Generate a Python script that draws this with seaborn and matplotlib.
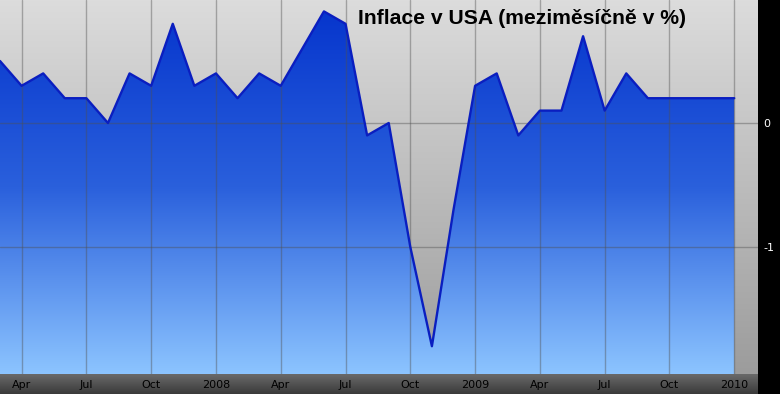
import matplotlib.pyplot as plt
import numpy as np
import pandas as pd
import seaborn as sns
from matplotlib.colors import LinearSegmentedColormap

# Monthly US inflation (m/m, %), Mar 2007 - Jan 2010
months = pd.date_range('2007-03-01', '2010-01-01', freq='MS')
inflation = [0.5, 0.3, 0.4, 0.2, 0.2, 0.0, 0.4, 0.3, 0.8, 0.3,
             0.4, 0.2, 0.4, 0.3, 0.6, 0.9, 0.8, -0.1, 0.0, -1.0, -1.8, -0.7,
             0.3, 0.4, -0.1, 0.1, 0.1, 0.7, 0.1, 0.4, 0.2, 0.2, 0.2, 0.2, 0.2]
tick_labels = ['Apr', 'Jul', 'Oct', '2008', 'Apr', 'Jul', 'Oct',
               '2009', 'Apr', 'Jul', 'Oct', '2010']
y_ticks = [0, -1]

df = pd.DataFrame({'month': months, 'value': inflation})
df['idx'] = np.arange(len(df))
tick_pos = df.loc[df['month'].dt.month.isin([1, 4, 7, 10]), 'idx'].tolist()

sns.set_style('white')
plt.rcParams['font.family'] = ['DejaVu Sans']

W, H = 780, 394
fig = plt.figure(figsize=(W / 100, H / 100), dpi=100)
fig.patch.set_facecolor('black')

xmin, xmax = 0, 35.1
ymin, ymax = -2.024, 0.992

grad = np.linspace(0, 1, 256).reshape(-1, 1)

# bottom strip behind the x labels
axb = fig.add_axes([0, 0, 758 / W, 20 / H])
strip_cmap = LinearSegmentedColormap.from_list('strip', ['#6a6a6a', '#3a3a3a'])
axb.imshow(grad, aspect='auto', cmap=strip_cmap, extent=[0, 1, 0, 1])
axb.set_axis_off()

ax = fig.add_axes([0, 20 / H, 758 / W, 374 / H])

# gray background gradient
bg_cmap = LinearSegmentedColormap.from_list('bg', ['#dcdcdc', '#9c9c9c'])
ax.imshow(grad, aspect='auto', cmap=bg_cmap, extent=[xmin, xmax, ymin, ymax],
          zorder=0)

# blue gradient fill under the line
poly = ax.fill_between(df['idx'], df['value'], ymin, color='none', lw=0)
blue_cmap = LinearSegmentedColormap.from_list('blue', ['#0433cc', '#2a60dc', '#8cc4ff'])
im = ax.imshow(grad, aspect='auto', cmap=blue_cmap,
               extent=[xmin, xmax, ymin, ymax], zorder=1)
im.set_clip_path(poly.get_paths()[0], transform=ax.transData)

sns.lineplot(data=df, x='idx', y='value', ax=ax, color='#0a1ec0', lw=1.7,
             zorder=3)

ax.set_xlim(xmin, xmax)
ax.set_ylim(ymin, ymax)
ax.set_xticks(tick_pos)
ax.set_xticklabels(tick_labels)
ax.set_yticks(y_ticks)
ax.set_yticklabels(['0', '-1'])
ax.yaxis.tick_right()
ax.tick_params(axis='x', length=0, pad=4, labelsize=8, colors='black')
ax.tick_params(axis='y', length=0, pad=4, labelsize=8, colors='white')
ax.set_axisbelow(False)
ax.grid(True, color='#505050', alpha=0.42, lw=1)
ax.set_xlabel('')
ax.set_ylabel('')
for s in ax.spines.values():
    s.set_visible(False)

fig.text(358 / W, 1 - 19 / H, 'Inflace v USA (meziměsíčně v %)',
         ha='left', va='center', fontsize=15.2, fontweight='bold',
         color='black', family=['Liberation Sans', 'DejaVu Sans'])

fig.savefig('out.png', dpi=100, facecolor=fig.get_facecolor())
